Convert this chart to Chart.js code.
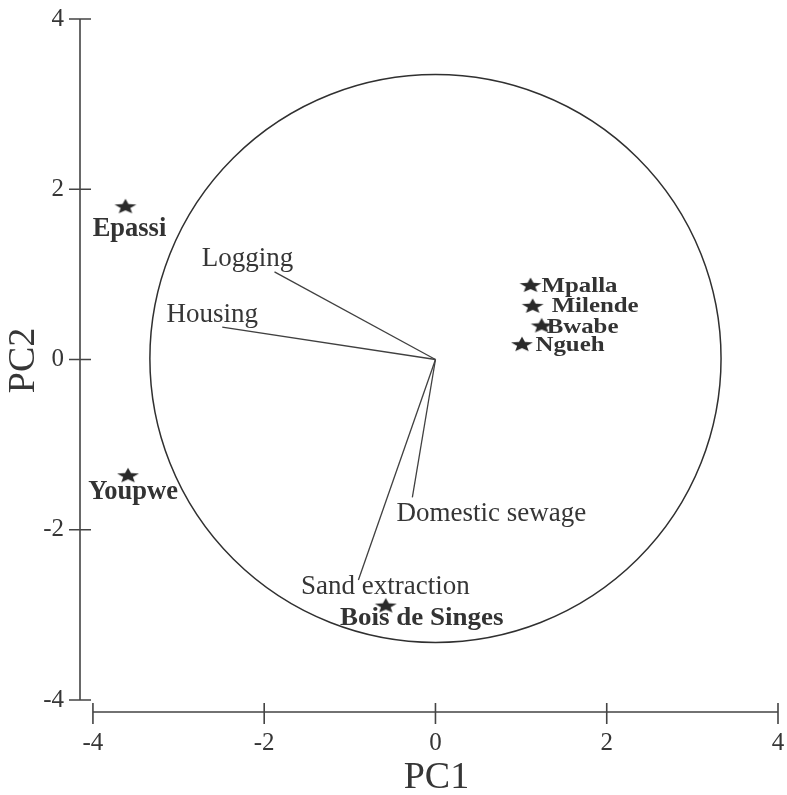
<!DOCTYPE html>
<html>
<head>
<meta charset="utf-8">
<script src="https://cdn.jsdelivr.net/npm/chart.js@4/dist/chart.umd.min.js"></script>
<style>
  html, body { margin: 0; padding: 0; background: #ffffff; }
  #wrap { width: 787px; height: 795px; }
</style>
</head>
<body>
<div id="wrap"><canvas id="c" width="787" height="795"></canvas></div>
<script>
// ---- data ----
const siteNames = ['Epassi', 'Youpwe', 'Mpalla', 'Milende', 'Bwabe', 'Ngueh', 'Bois de Singes'];
const siteX = [-3.62, -3.59, 1.11, 1.135, 1.24, 1.01, -0.58];
const siteY = [1.80, -1.36, 0.875, 0.63, 0.40, 0.18, -2.89];

const varNames = ['Logging', 'Housing', 'Domestic sewage', 'Sand extraction'];
const varX = [-1.88, -2.49, -0.27, -0.90];
const varY = [1.03, 0.38, -1.62, -2.59];

const xTicks = [-4, -2, 0, 2, 4];
const yTicks = [-4, -2, 0, 2, 4];
const circleRadius = 3.335;
const xTitle = 'PC1';
const yTitle = 'PC2';

// ---- layout / style (not data) ----
const INK = '#363636';
const SERIF = '"Liberation Serif", "DejaVu Serif", serif';
// label pixel offsets from anchor [dx, dy, align, fontSize, bold, xStretch]
const siteLabelLayout = [
  [4, 22.5, 'center', 26.5, true, 1.0],
  [5, 17, 'center', 26.5, true, 1.0],
  [11, 1, 'left', 22, true, 1.13],
  [19, 0.7, 'left', 22, true, 1.13],
  [5, 2, 'left', 22, true, 1.13],
  [13.5, 0.7, 'left', 22, true, 1.13],
  [36, 13, 'center', 25, true, 1.08]
];
const varLabelLayout = [
  [-27, -13],
  [-10, -12],
  [79, 16.5],
  [27, 7]
];

// star marker drawn on an offscreen canvas, used as the point style
function makeStar() {
  const cv = document.createElement('canvas');
  cv.width = 26; cv.height = 18;
  const g = cv.getContext('2d');
  const cx = 13, cy = 9.6, rx = 11.5, ry = 8, inner = 0.44;
  g.beginPath();
  for (let k = 0; k < 10; k++) {
    const a = k * Math.PI / 5;
    const r = (k % 2 === 0) ? 1 : inner;
    const px = cx + rx * r * Math.sin(a);
    const py = cy - ry * r * Math.cos(a);
    if (k === 0) g.moveTo(px, py); else g.lineTo(px, py);
  }
  g.closePath();
  g.fillStyle = '#2a2a2a';
  g.fill();
  return cv;
}
const starImg = makeStar();

const siteData = siteNames.map((n, i) => ({ x: siteX[i], y: siteY[i] }));
const vectorDatasets = varNames.map((n, i) => ({
  type: 'line',
  label: n,
  data: [{ x: 0, y: 0 }, { x: varX[i], y: varY[i] }],
  borderColor: '#404040',
  borderWidth: 1.3,
  pointRadius: 0,
  showLine: true,
  fill: false,
  tension: 0
}));

const decorPlugin = {
  id: 'decor',
  beforeDatasetsDraw(chart) {
    const { ctx, scales: { x, y } } = chart;
    const cx = x.getPixelForValue(0), cy = y.getPixelForValue(0);
    const rx = x.getPixelForValue(circleRadius) - cx;
    const ry = cy - y.getPixelForValue(circleRadius);
    ctx.save();
    ctx.beginPath();
    ctx.ellipse(cx, cy - 1, rx, ry, 0, 0, Math.PI * 2);
    ctx.strokeStyle = '#303030';
    ctx.lineWidth = 1.5;
    ctx.stroke();
    ctx.restore();
  },
  afterDraw(chart) {
    const { ctx, chartArea, scales: { x, y } } = chart;
    ctx.save();
    ctx.strokeStyle = '#444444';
    ctx.lineWidth = 1.6;
    // y axis (offset line)
    const ax = chartArea.left;
    ctx.beginPath();
    ctx.moveTo(ax, y.getPixelForValue(yTicks[yTicks.length - 1]));
    ctx.lineTo(ax, y.getPixelForValue(yTicks[0]));
    yTicks.forEach(v => {
      const py = y.getPixelForValue(v);
      ctx.moveTo(ax - 11, py); ctx.lineTo(ax + 11, py);
    });
    // x axis (offset line)
    const ay = chartArea.bottom;
    ctx.moveTo(x.getPixelForValue(xTicks[0]), ay);
    ctx.lineTo(x.getPixelForValue(xTicks[xTicks.length - 1]), ay);
    xTicks.forEach(v => {
      const px = x.getPixelForValue(v);
      ctx.moveTo(px, ay - 9); ctx.lineTo(px, ay + 12);
    });
    ctx.stroke();

    // axis titles
    ctx.fillStyle = INK;
    ctx.textBaseline = 'middle';
    ctx.textAlign = 'center';
    ctx.font = '38px ' + SERIF;
    ctx.fillText(xTitle, x.getPixelForValue(0) + 1, 778);
    ctx.save();
    ctx.translate(24, y.getPixelForValue(0) + 1);
    ctx.rotate(-Math.PI / 2);
    ctx.fillText(yTitle, 0, 0);
    ctx.restore();

    // variable labels
    ctx.font = '27px ' + SERIF;
    varNames.forEach((n, i) => {
      const px = x.getPixelForValue(varX[i]) + varLabelLayout[i][0];
      const py = y.getPixelForValue(varY[i]) + varLabelLayout[i][1];
      ctx.textAlign = 'center';
      ctx.fillText(n, px, py);
    });

    // site labels
    siteNames.forEach((n, i) => {
      const [dx, dy, align, size, bold, stretch] = siteLabelLayout[i];
      const px = x.getPixelForValue(siteX[i]) + dx;
      const py = y.getPixelForValue(siteY[i]) + dy;
      ctx.save();
      ctx.translate(px, py);
      ctx.scale(stretch, 1);
      ctx.font = (bold ? 'bold ' : '') + size + 'px ' + SERIF;
      ctx.textAlign = align;
      ctx.fillStyle = '#333333';
      ctx.fillText(n, 0, 0);
      ctx.restore();
    });
    ctx.restore();
  }
};

const tickFont = { family: SERIF, size: 25 };

new Chart(document.getElementById('c'), {
  type: 'scatter',
  data: {
    datasets: [
      ...vectorDatasets,
      {
        type: 'scatter',
        label: 'Sites',
        data: siteData,
        pointStyle: starImg,
        pointRadius: 8,
        pointHoverRadius: 8
      }
    ]
  },
  options: {
    responsive: false,
    animation: false,
    events: [],
    layout: { padding: { top: 19, right: 5, left: 0, bottom: 0 } },
    plugins: { legend: { display: false }, tooltip: { enabled: false }, title: { display: false } },
    scales: {
      x: {
        type: 'linear',
        min: -4.151,
        max: 4,
        grid: { display: false, drawTicks: false },
        border: { display: false },
        ticks: { font: tickFont, color: INK, padding: 16, callback: v => String(v) },
        afterBuildTicks: s => { s.ticks = xTicks.map(v => ({ value: v })); },
        afterFit: s => { s.height = 83; s.paddingLeft = 0; s.paddingRight = 0; }
      },
      y: {
        type: 'linear',
        min: -4.141,
        max: 4,
        grid: { display: false, drawTicks: false },
        border: { display: false },
        ticks: { font: tickFont, color: INK, padding: 16, callback: v => String(v) },
        afterBuildTicks: s => { s.ticks = yTicks.map(v => ({ value: v })); },
        afterFit: s => { s.width = 80; s.paddingTop = 0; s.paddingBottom = 0; }
      }
    }
  },
  plugins: [decorPlugin]
});
</script>
</body>
</html>
